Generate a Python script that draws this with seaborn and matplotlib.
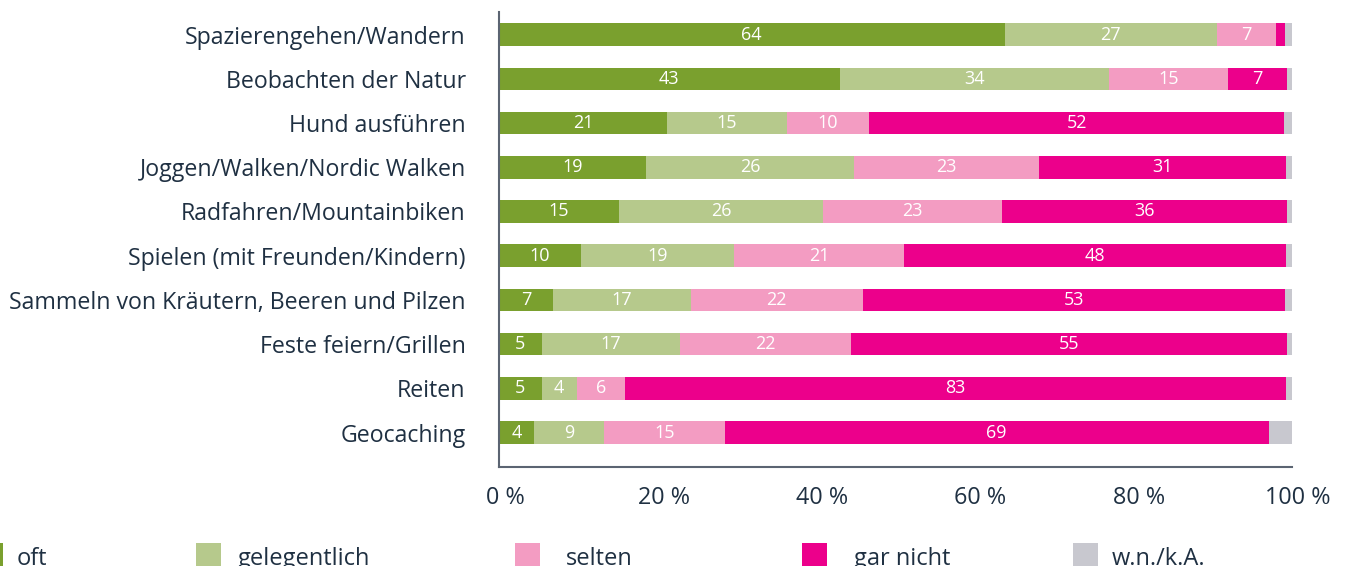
import matplotlib
matplotlib.use("Agg")
import matplotlib.pyplot as plt
import matplotlib.transforms as mtransforms
from matplotlib.patches import Rectangle
import seaborn as sns
import pandas as pd
import numpy as np

categories = [
    "Spazierengehen/Wandern",
    "Beobachten der Natur",
    "Hund ausführen",
    "Joggen/Walken/Nordic Walken",
    "Radfahren/Mountainbiken",
    "Spielen (mit Freunden/Kindern)",
    "Sammeln von Kräutern, Beeren und Pilzen",
    "Feste feiern/Grillen",
    "Reiten",
    "Geocaching",
]
series_names = ["oft", "gelegentlich", "selten", "gar nicht", "w.n./k.A."]
oft          = [63.8, 43.0, 21.2, 18.6, 15.1, 10.3, 6.8, 5.4, 5.4, 4.4]
gelegentlich = [26.8, 34.0, 15.1, 26.2, 25.8, 19.4, 17.4, 17.4, 4.4, 8.9]
selten       = [7.4, 15.0, 10.4, 23.3, 22.6, 21.4, 21.7, 21.6, 6.1, 15.2]
gar_nicht    = [1.2, 7.4, 52.4, 31.2, 35.9, 48.2, 53.3, 55.0, 83.4, 68.6]
wn_ka        = [0.8, 0.6, 0.9, 0.7, 0.6, 0.7, 0.8, 0.6, 0.7, 2.9]
tick_values = [0, 20, 40, 60, 80, 100]
tick_labels = ["0 %", "20 %", "40 %", "60 %", "80 %", "100 %"]

colors = ["#7aa02e", "#b6c98c", "#f39cc2", "#ec008b", "#c8c8cf"]
text_color = "#1f3042"
FONT = ["Open Sans", "DejaVu Sans"]

sns.set_theme(style="white")
plt.rcParams["font.family"] = FONT

W, H = 1346, 566
fig = plt.figure(figsize=(W / 100, H / 100), dpi=100)
left_px, right_px, top_px, bottom_px = 499, 1291.5, 12, 466.7
ax = fig.add_axes([left_px / W, 1 - bottom_px / H,
                   (right_px - left_px) / W, (bottom_px - top_px) / H])

series = [oft, gelegentlich, selten, gar_nicht, wn_ka]
vals = np.array(series)
cum = np.cumsum(vals, axis=0)
df = pd.DataFrame({"Kategorie": categories})
for i, name in enumerate(series_names):
    df["cum_" + str(i)] = cum[i]

# draw from outermost cumulative to innermost
for i in range(len(series_names) - 1, -1, -1):
    sns.barplot(data=df, y="Kategorie", x="cum_" + str(i), orient="h",
                color=colors[i], saturation=1, width=0.51, ax=ax,
                linewidth=0, order=categories)

# value labels
for i in range(4):
    for j, cat in enumerate(categories):
        v = vals[i, j]
        if v >= 3:
            start = cum[i, j] - v
            ax.text(start + v / 2, j, f"{v:.0f}", ha="center", va="center",
                    color="white", fontsize=13, family=FONT)

ax.set_xlim(0, 100)
ax.set_ylim(9.77, -0.51)
ax.set_xlabel("")
ax.set_ylabel("")
ax.set_xticks(tick_values)
ax.set_xticklabels(tick_labels, fontsize=16.8, color=text_color)
ax.set_yticks(range(len(categories)))
ax.set_yticklabels(categories, fontsize=16.7, color=text_color)
ax.tick_params(axis="x", length=0, pad=14)
ax.tick_params(axis="y", length=0, pad=24)
offset = mtransforms.ScaledTranslation(6 / 100, 0, fig.dpi_scale_trans)
for lbl in ax.xaxis.get_majorticklabels():
    lbl.set_transform(lbl.get_transform() + offset)
for s in ["top", "right"]:
    ax.spines[s].set_visible(False)
for s in ["left", "bottom"]:
    ax.spines[s].set_color("#5b6472")
    ax.spines[s].set_linewidth(1.5)

# legend (manually placed, partly cut by the lower border as in the reference)
marker_x = [-22, 196, 515, 802, 1073]
text_x = [17, 238, 566, 854, 1112]
for name, col, mx, tx in zip(series_names, colors, marker_x, text_x):
    fig.patches.append(Rectangle((mx / W, 1 - 568 / H), 25 / W, 25 / H,
                                 transform=fig.transFigure, color=col,
                                 linewidth=0))
    fig.text(tx / W, 1 - 565 / H, name, ha="left", va="baseline",
             fontsize=17, color=text_color, family=FONT)

fig.savefig("out.png", dpi=100)
